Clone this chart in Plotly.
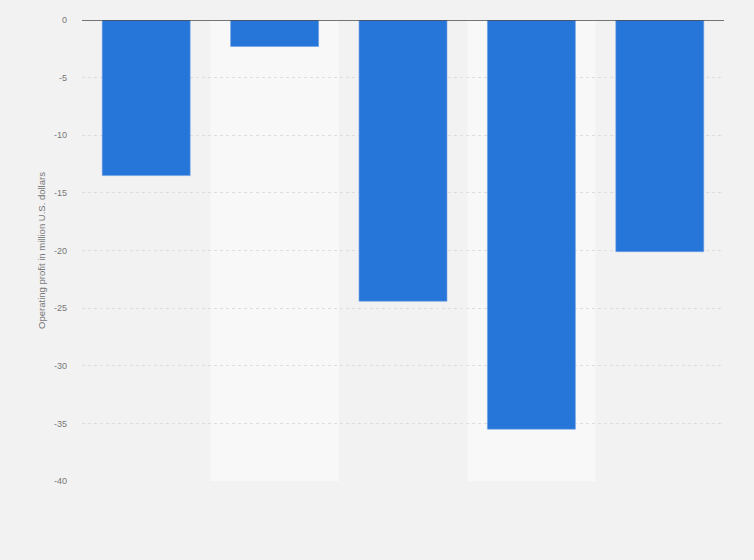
import plotly.graph_objects as go

categories = ["A", "B", "C", "D", "E"]
operating_profit = [-13.5, -2.3, -24.4, -35.5, -20.1]
y_ticks = [0, -5, -10, -15, -20, -25, -30, -35, -40]
y_tick_labels = ["0", "-5", "-10", "-15", "-20", "-25", "-30", "-35", "-40"]

fig = go.Figure()
fig.add_trace(go.Bar(
    x=categories, y=operating_profit,
    marker=dict(color="#2675d9", line=dict(color="#6fa0e6", width=0.6)),
    width=0.685,
))

shapes = []
for i in range(len(categories)):
    if i % 2 == 1:
        shapes.append(dict(type="rect", xref="x", yref="y", x0=i - 0.5, x1=i + 0.5,
                           y0=-40, y1=0, fillcolor="#f8f8f8", line=dict(width=0), layer="below"))
shapes.append(dict(type="line", xref="paper", yref="y", x0=0, x1=1, y0=0, y1=0,
                   line=dict(color="#4a4a4a", width=1.5)))

fig.update_layout(
    width=754, height=560,
    margin=dict(l=82, r=30, t=20, b=79),
    paper_bgcolor="#f2f2f2", plot_bgcolor="#f2f2f2",
    showlegend=False,
    shapes=shapes,
    font=dict(family="Arial, Liberation Sans, sans-serif", size=9, color="#777777"),
    xaxis=dict(showticklabels=False, showgrid=False, zeroline=False, range=[-0.5, 4.5]),
    yaxis=dict(range=[-40, 0], tickvals=y_ticks, ticktext=y_tick_labels, showgrid=True,
               gridcolor="#dddddd", griddash="dot", gridwidth=1, zeroline=False,
               ticklabelstandoff=14,
               title=dict(text="Operating profit in million U.S. dollars", standoff=6,
                          font=dict(size=9.5, color="#777777"))),
)
fig.write_html("out.html", config={"displayModeBar": False},
               post_script="document.body.style.margin='0';document.body.style.background='#f2f2f2';")
